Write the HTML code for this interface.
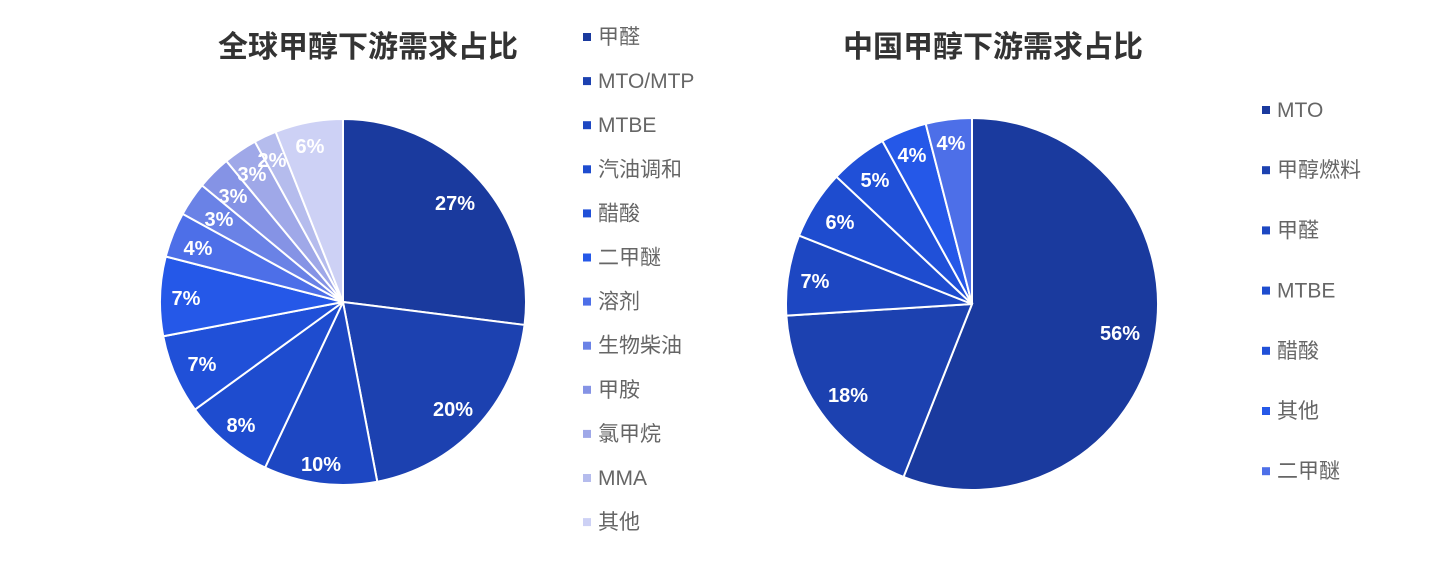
<!DOCTYPE html>
<html><head><meta charset="utf-8">
<style>
body{margin:0;background:#fff;width:1440px;height:556px;overflow:hidden;font-family:"Liberation Sans","Noto Sans CJK SC",sans-serif;}
svg text{font-family:"Liberation Sans","Noto Sans CJK SC",sans-serif;}
</style></head>
<body>
<svg id="s" width="1440" height="556" xmlns="http://www.w3.org/2000/svg">
<text x="368" y="57" text-anchor="middle" font-size="30" font-weight="bold" fill="#333">全球甲醇下游需求占比</text>
<text x="993" y="57" text-anchor="middle" font-size="30" font-weight="bold" fill="#333">中国甲醇下游需求占比</text>
<g id="p1"></g><g id="p2"></g><g id="l"></g>
</svg>
<script>
var NS="http://www.w3.org/2000/svg";
var C=["#1a3a9e","#1c41b0","#1d47c2","#1e4ccf","#2050d8","#2558e8","#4d6fe8","#6a82e6","#8593e5","#9fa8e8","#b5bced","#cdd1f5"];
function pie(g,cx,cy,r,vals,labels){
 var a=0,el=document.getElementById(g);
 vals.forEach(function(v,i){
  var a0=a/100*2*Math.PI,a1=(a+v)/100*2*Math.PI;a+=v;
  var x0=cx+r*Math.sin(a0),y0=cy-r*Math.cos(a0),x1=cx+r*Math.sin(a1),y1=cy-r*Math.cos(a1);
  var p=document.createElementNS(NS,"path");
  p.setAttribute("d","M"+cx+","+cy+"L"+x0+","+y0+"A"+r+","+r+" 0 "+(v>50?1:0)+" 1 "+x1+","+y1+"Z");
  p.setAttribute("fill",C[i]);p.setAttribute("stroke","#fff");p.setAttribute("stroke-width","2");
  el.appendChild(p);
 });
 labels.forEach(function(l){
  var t=document.createElementNS(NS,"text");
  t.setAttribute("x",l[1]);t.setAttribute("y",l[2]+7);t.setAttribute("text-anchor","middle");
  t.setAttribute("font-size","20");t.setAttribute("font-weight","bold");t.setAttribute("fill","#fff");
  t.textContent=l[0];el.appendChild(t);
 });
}
pie("p1",343,302,183,[27,20,10,8,7,7,4,3,3,3,2,6],
 [["27%",455,203],["20%",453,409],["10%",321,464],["8%",241,425],["7%",202,364],["7%",186,298],["4%",198,248],["3%",219,219],["3%",233,196],["3%",252,174],["2%",272,160],["6%",310,146]]);
pie("p2",972,304,186,[56,18,7,6,5,4,4],
 [["56%",1120,333],["18%",848,395],["7%",815,281],["6%",840,222],["5%",875,180],["4%",912,155],["4%",951,143]]);
var L=document.getElementById("l");
function leg(x,y,c,txt){
 var r=document.createElementNS(NS,"rect");r.setAttribute("x",x);r.setAttribute("y",y-4);r.setAttribute("width",8);r.setAttribute("height",8);r.setAttribute("fill",c);L.appendChild(r);
 var t=document.createElementNS(NS,"text");t.setAttribute("x",x+15);t.setAttribute("y",y+7);t.setAttribute("font-size","21");t.setAttribute("fill","#666");t.textContent=txt;L.appendChild(t);
}
["甲醛","MTO/MTP","MTBE","汽油调和","醋酸","二甲醚","溶剂","生物柴油","甲胺","氯甲烷","MMA","其他"].forEach(function(s,i){leg(583,37+i*44.1,C[i],s);});
["MTO","甲醇燃料","甲醛","MTBE","醋酸","其他","二甲醚"].forEach(function(s,i){leg(1262,110+i*60.2,C[i],s);});
</script>
</body></html>
